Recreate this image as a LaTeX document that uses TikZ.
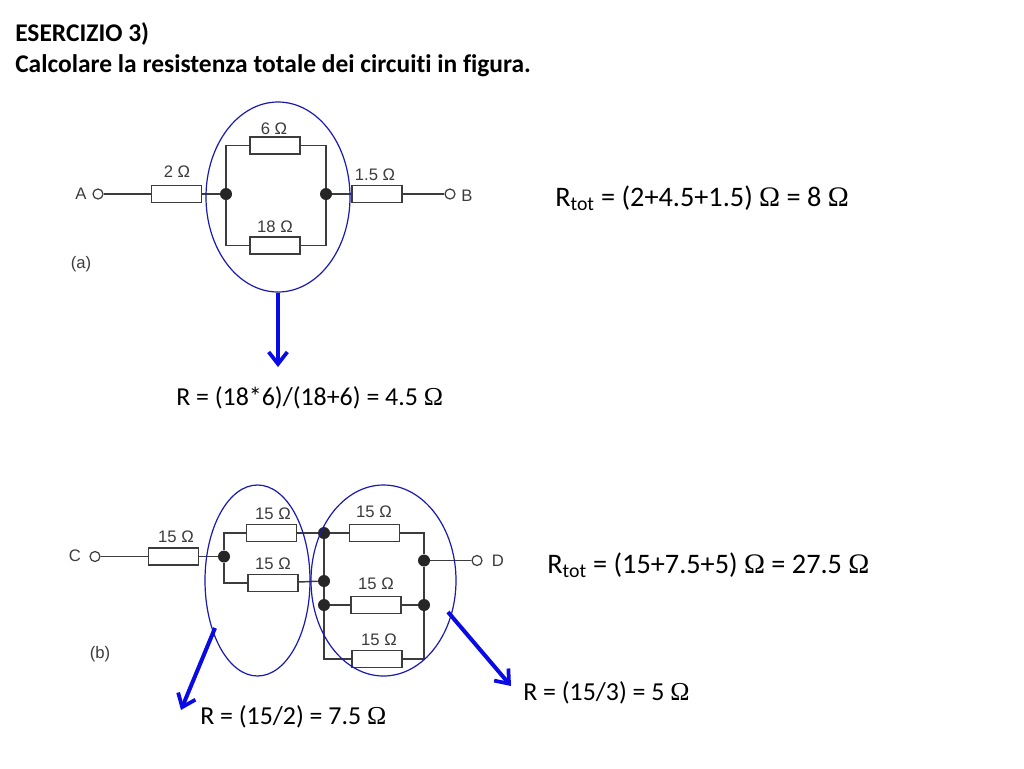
\documentclass[tikz,border=0pt]{standalone}
\usepackage{fontspec}
\setmainfont[Ligatures=NoCommon]{Carlito}
\newfontfamily\omegafont{Liberation Serif}
\newfontfamily\circfont{Liberation Sans}
\usepackage{xcolor}
\usetikzlibrary{shapes,arrows,arrows.meta}
\definecolor{wirecol}{HTML}{3C3C3C}
\definecolor{ringcol}{HTML}{1A1AB0}
\definecolor{arrowcol}{HTML}{0A0AE6}
\newcommand{\ohm}{{\omegafont Ω}}

\begin{document}
\begin{tikzpicture}[x=0.75pt, y=-0.75pt,
	res/.style={draw=wirecol, line width=1.1pt, fill=white, minimum width=37.5pt, minimum height=12.5pt, inner sep=0},
	circ/.style={circle, fill=black!85, minimum width=9pt, inner sep=0},
	term/.style={circle, draw=wirecol, line width=0.9pt, fill=white, minimum width=7.5pt, inner sep=0},
	wire/.style={draw=wirecol, line width=1.1pt},
	ring/.style={ellipse, draw=ringcol, line width=0.9pt, inner sep=0},
	reslabel/.style={font=\circfont\fontsize{12.5}{14}\selectfont, text=wirecol, inner sep=0},
	title/.style={font=\bfseries\fontsize{19.1}{23}\selectfont, anchor=base west, inner sep=0},
	formula/.style={font=\fontsize{19.4}{23}\selectfont, anchor=base west, inner sep=0},
	bigformula/.style={font=\fontsize{21.2}{25}\selectfont, anchor=base west, inner sep=0},
	bigarrow/.style={draw=arrowcol, line width=3pt, -{Straight Barb[length=9pt, width=14pt, line width=2.8pt]}}
]
\path[use as bounding box, fill=white] (0,0) rectangle (1024,768);

\node[title] (head1) at (15,41) {ESERCIZIO 3)};
\node[title] (head2) at (15,72) {Calcolare la resistenza totale dei circuiti in figura.};

% circuit a
\node[term] (tA) at (98,194) {};
\node[term] (tB) at (450,194) {};
\node[res] (r2) at (176.5,194) {};
\node[res] (r6) at (275,145.5) {};
\node[res] (r18) at (275,245.5) {};
\node[res] (r15) at (377,194) {};
\node[circ] (a1) at (226,194) {};
\node[circ] (a2) at (326,194) {};

\draw[wire] (tA) -- (r2);
\draw[wire] (r2) -- (a1);
\draw[wire] (a2) -- (r15);
\draw[wire] (r15) -- (tB);
\draw[wire] (a1) |- (r6);
\draw[wire] (r6) -| (a2);
\draw[wire] (a1) |- (r18);
\draw[wire] (r18) -| (a2);

\node[reslabel] (lA) at (81,194) {A};
\node[reslabel] (lB) at (467,196) {B};
\node[reslabel] (l2) at (177,172) {2 Ω};
\node[reslabel] (l6) at (274,129) {6 Ω};
\node[reslabel] (l18) at (275,227) {18 Ω};
\node[reslabel] (l15) at (375,175) {1.5 Ω};
\node[reslabel] (la) at (81,264) {(a)};

% circuit b
\node[term] (tC) at (95,556.5) {};
\node[term] (tD) at (477,560.5) {};
\node[res] (r1) at (173.5,556.5) {};
\node[res] (r3) at (271.5,533) {};
\node[res] (r4) at (273,583) {};
\node[res] (r5) at (374.5,533) {};
\node[res] (r7) at (376,605) {};
\node[res] (r8) at (377,659) {};
\node[circ] (b1) at (224,556.5) {};
\node[circ] (b2) at (324,533) {};
\node[circ] (b3) at (324,581) {};
\node[circ] (b4) at (324,605) {};
\node[circ] (b5) at (424,560.5) {};
\node[circ] (b6) at (424,605) {};
\coordinate (b7) at (324,659);
\coordinate (b8) at (424,659);
\coordinate (b9) at (424,533);

\draw[wire] (tC) -- (r1);
\draw[wire] (r1) -- (b1);
\draw[wire] (b1) |- (r3);
\draw[wire] (b1) |- (r4);
\draw[wire] (r3) -- (b2);
\draw[wire] (r4) -- (b3);
\draw[wire] (b2) -- (r5);
\draw[wire] (r5) -- (b9) -- (b5);
\draw[wire] (b5) -- (tD);
\draw[wire] (b2) -- (b3);
\draw[wire] (b3) -- (b4);
\draw[wire] (b4) -- (r7);
\draw[wire] (r7) -- (b6);
\draw[wire] (b4) -- (b7) -- (r8);
\draw[wire] (r8) -- (b8) -- (b6);
\draw[wire] (b6) -- (b5);

\node[reslabel] (lC) at (75,556) {C};
\node[reslabel] (lD) at (498,561) {D};
\node[reslabel] (l1) at (176,537) {15 Ω};
\node[reslabel] (l3) at (273,514) {15 Ω};
\node[reslabel] (l4) at (273,564) {15 Ω};
\node[reslabel] (l5) at (374,512) {15 Ω};
\node[reslabel] (l7) at (376,584) {15 Ω};
\node[reslabel] (l8) at (379,640) {15 Ω};
\node[reslabel] (lb) at (100,654) {(b)};

% groups
\node[ring, minimum width=108pt, minimum height=142.5pt] (ringa) at (278,197) {};
\node[ring, minimum width=78.75pt, minimum height=143.25pt] (ringb) at (257.5,580.5) {};
\node[ring, minimum width=108.75pt, minimum height=143.25pt] (ringc) at (383.5,580.5) {};

\coordinate (enda) at (278,367);
\coordinate (endb) at (181,710);
\coordinate (endc) at (511,686);
\coordinate (startb) at (215,628);
\coordinate (startc) at (448,612);
\draw[bigarrow] (ringa.south) -- (enda);
\draw[bigarrow] (startb) -- (endb);
\draw[bigarrow] (startc) -- (endc);

\node[bigformula] (eq1) at (555,206) {R\textsubscript{tot} = (2+4.5+1.5) \ohm{} = 8 \ohm};
\node[formula] (eq2) at (176,405) {R = (18*6)/(18+6) = 4.5 \ohm};
\node[bigformula] (eq3) at (547,573) {R\textsubscript{tot} = (15+7.5+5) \ohm{} = 27.5 \ohm};
\node[formula] (eq4) at (200,724) {R = (15/2) = 7.5 \ohm};
\node[formula] (eq5) at (523,700) {R = (15/3) = 5 \ohm};
\end{tikzpicture}
\end{document}
